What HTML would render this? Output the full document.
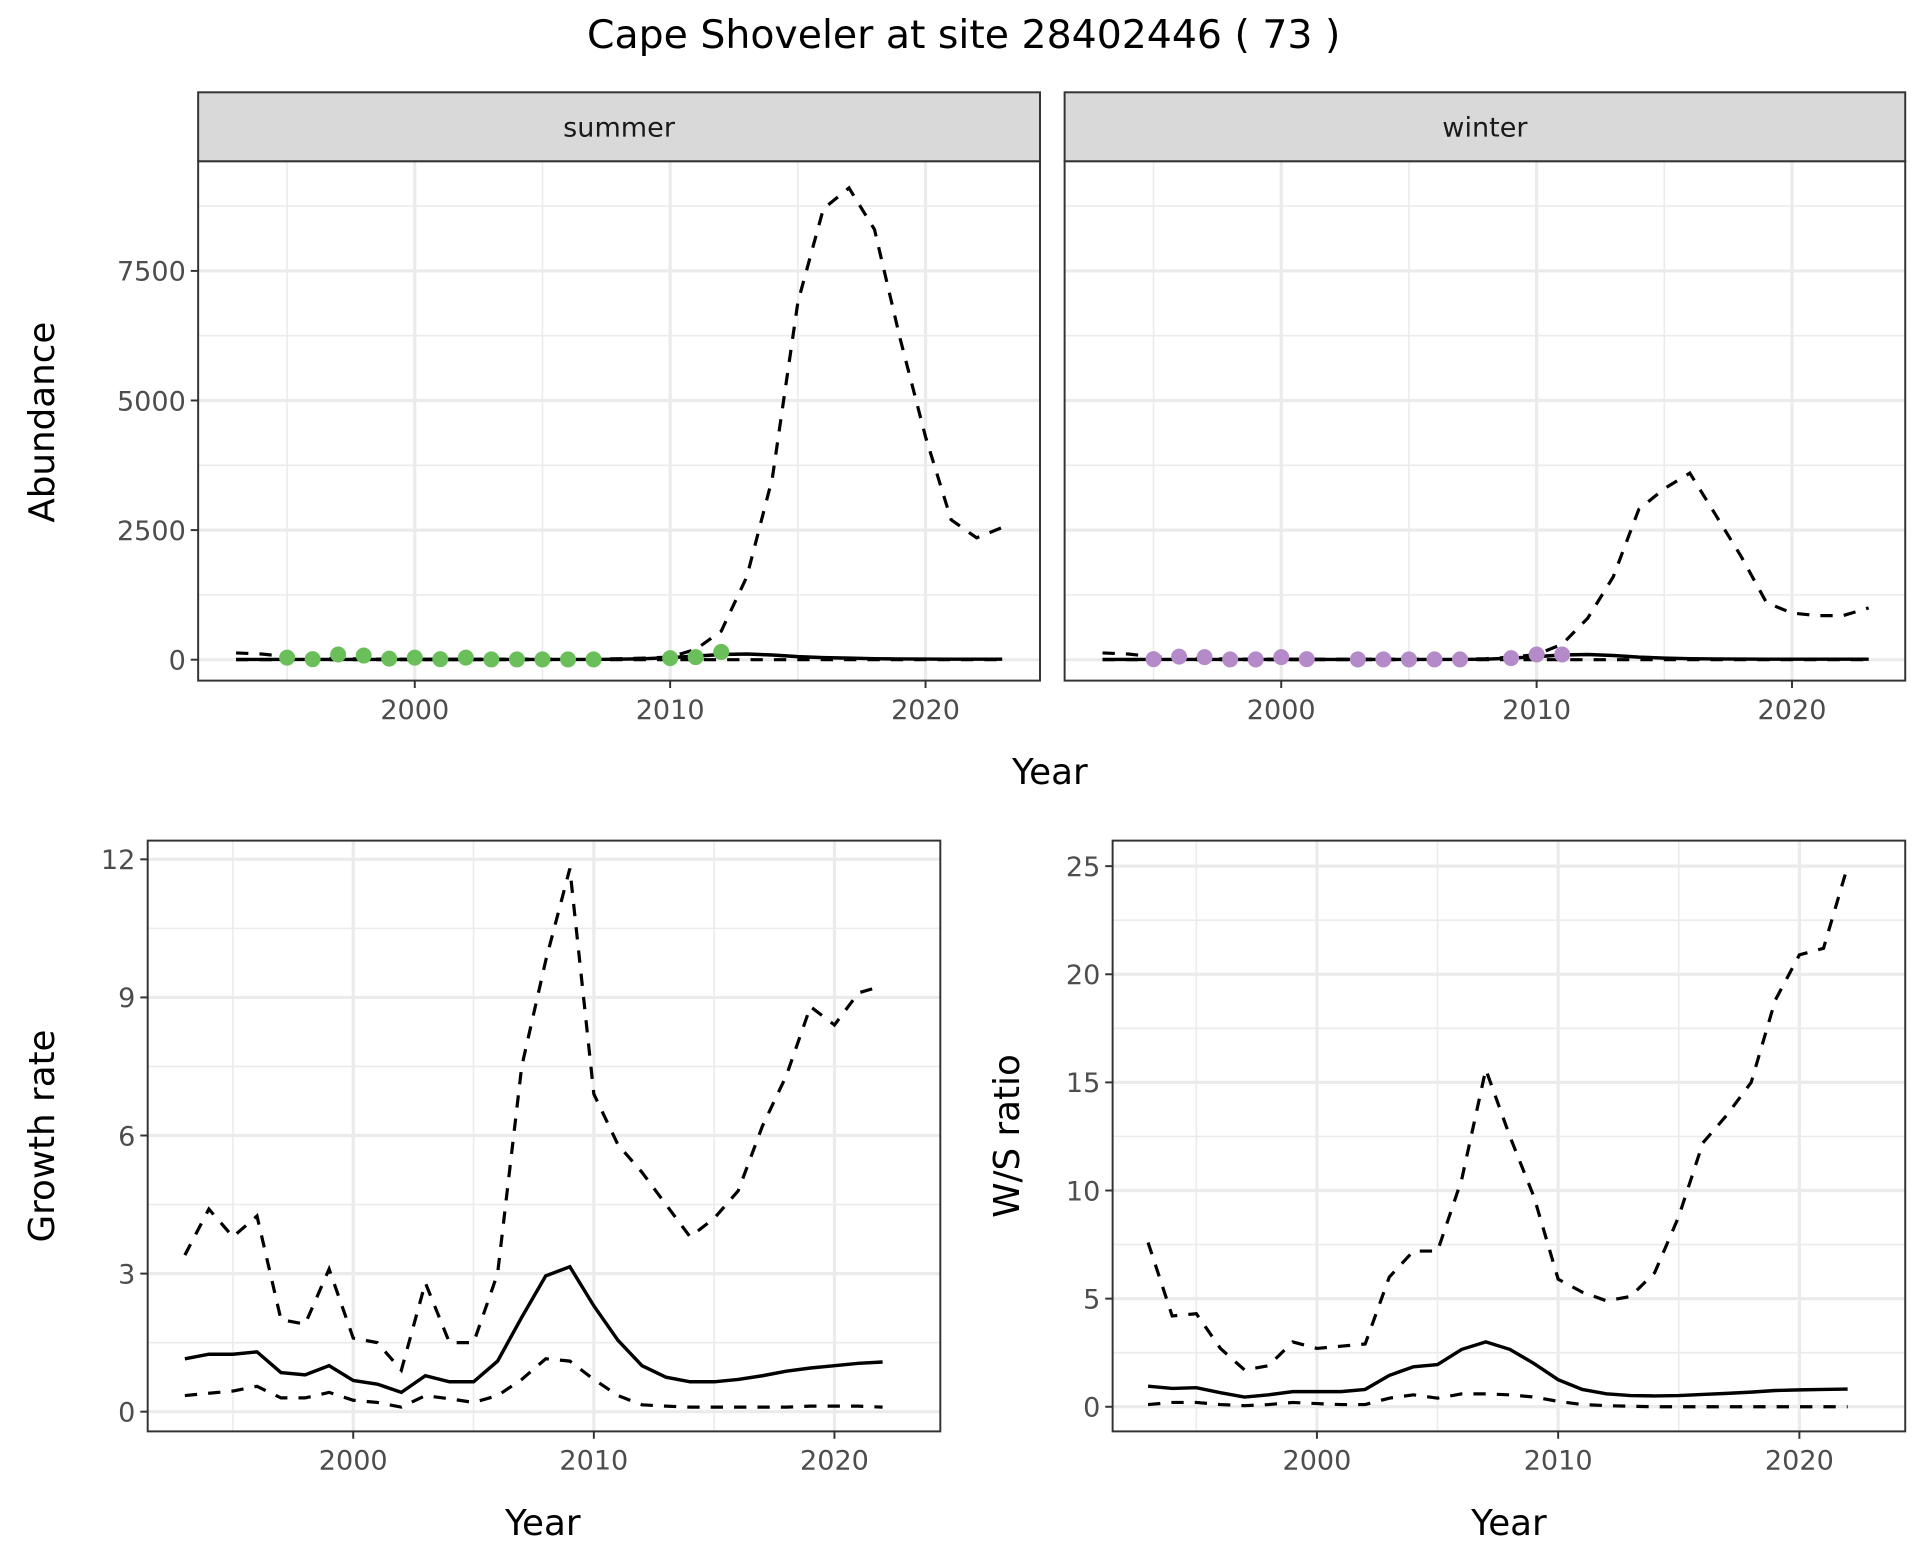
<!DOCTYPE html>
<html><head><meta charset="utf-8"><style>
html,body{margin:0;padding:0;background:#fff;}
svg{display:block;font-family:"DejaVu Sans","Liberation Sans",sans-serif;}
</style></head><body>
<svg id="chart" width="1920" height="1560" viewBox="0 0 1560 1267.5" preserveAspectRatio="none" xmlns="http://www.w3.org/2000/svg">
<rect width="1560" height="1267.5" fill="#fff"/>
<text x="783" y="39" font-size="32" text-anchor="middle" fill="#000">Cape Shoveler at site 28402446 ( 73 )</text>
</svg>
<script>
const yearsA = [1993,1994,1995,1996,1997,1998,1999,2000,2001,2002,2003,2004,2005,2006,2007,2008,2009,2010,2011,2012,2013,2014,2015,2016,2017,2018,2019,2020,2021,2022,2023];
const sumMid = [5,5,5,5,5,5,5,5,5,5,5,5,5,5,5,10,20,40,70,100,110,90,60,40,30,20,15,12,10,10,10];
const sumUp = [130,110,60,30,20,15,10,10,10,10,10,10,10,10,15,20,30,50,200,550,1600,3500,6900,8700,9100,8300,6200,4300,2700,2350,2550];
const sumLo = [0,0,0,0,0,0,0,0,0,0,0,0,0,0,0,0,0,0,0,0,0,0,0,0,0,0,0,0,0,0,0];
const winMid = [5,5,5,5,5,5,5,5,5,5,5,5,5,5,5,10,30,60,90,100,80,50,30,20,15,12,10,10,10,10,10];
const winUp = [130,110,60,30,20,15,10,10,10,10,10,10,10,10,15,20,50,100,300,800,1600,2900,3300,3600,2800,2000,1100,900,850,850,1000];
const winLo = [0,0,0,0,0,0,0,0,0,0,0,0,0,0,0,0,0,0,0,0,0,0,0,0,0,0,0,0,0,0,0];
const sumPtYears = [1995,1996,1997,1998,1999,2000,2001,2002,2003,2004,2005,2006,2007,2010,2011,2012];
const sumPtVals = [40,10,100,80,20,40,10,40,5,5,5,5,5,30,50,150];
const winPtYears = [1995,1996,1997,1998,1999,2000,2001,2003,2004,2005,2006,2007,2009,2010,2011];
const winPtVals = [10,60,50,5,5,50,10,5,5,5,5,5,30,100,100];
const yearsB = [1993,1994,1995,1996,1997,1998,1999,2000,2001,2002,2003,2004,2005,2006,2007,2008,2009,2010,2011,2012,2013,2014,2015,2016,2017,2018,2019,2020,2021,2022];
const grMid = [1.15,1.25,1.25,1.3,0.85,0.8,1.0,0.68,0.6,0.42,0.78,0.65,0.65,1.1,2.05,2.95,3.15,2.3,1.55,1.0,0.75,0.65,0.65,0.7,0.78,0.88,0.95,1.0,1.05,1.08];
const grUp = [3.4,4.4,3.8,4.25,2.0,1.9,3.1,1.6,1.5,0.9,2.8,1.5,1.5,3.0,7.5,9.8,11.8,6.9,5.8,5.2,4.5,3.8,4.2,4.8,6.2,7.3,8.8,8.4,9.1,9.25];
const grLo = [0.35,0.4,0.45,0.55,0.3,0.3,0.42,0.25,0.2,0.1,0.35,0.28,0.2,0.35,0.7,1.15,1.1,0.7,0.35,0.15,0.12,0.1,0.1,0.1,0.1,0.1,0.12,0.12,0.12,0.1];
const wsMid = [0.95,0.85,0.88,0.65,0.45,0.55,0.7,0.7,0.7,0.8,1.45,1.85,1.95,2.65,3.0,2.65,2.0,1.25,0.8,0.6,0.52,0.5,0.52,0.57,0.62,0.68,0.75,0.78,0.8,0.82];
const wsUp = [7.6,4.2,4.3,2.7,1.7,1.9,3.0,2.7,2.8,2.9,6.0,7.2,7.2,10.5,15.6,12.5,9.7,5.9,5.3,4.9,5.1,6.2,8.8,12.2,13.5,15.0,18.8,20.9,21.2,25.0];
const wsLo = [0.1,0.2,0.2,0.1,0.05,0.1,0.2,0.15,0.1,0.1,0.4,0.55,0.4,0.6,0.6,0.55,0.45,0.25,0.1,0.05,0.02,0,0,0,0,0,0,0,0,0];
const abTicks = [0,2500,5000,7500];
const abMinor = [1250,3750,6250,8750];
const grTicks = [0,3,6,9,12];
const grMinor = [1.5,4.5,7.5,10.5];
const wsTicks = [0,5,10,15,20,25];
const wsMinor = [2.5,7.5,12.5,17.5,22.5];
const xTicks = [2000,2010,2020];
const xMinor = [1995,2005,2015];

const svg = document.getElementById('chart');
const NS = 'http://www.w3.org/2000/svg';
function mk(tag, attrs, parent){const e=document.createElementNS(NS,tag);for(const k in attrs)e.setAttribute(k,attrs[k]);(parent||svg).appendChild(e);return e;}

function panel(o){
  const g = mk('g',{});
  
  
  const sx = y => o.x2000 + (y-2000)*o.pxYear;
  const sy = v => o.y0 - v*o.pxUnit;
  mk('rect',{x:o.l,y:o.t,width:o.r-o.l,height:o.b-o.t,fill:'#fff'},g);
  o.yMinor.forEach(v=>mk('line',{x1:o.l,x2:o.r,y1:sy(v),y2:sy(v),stroke:'#ebebeb','stroke-width':1.3},g));
  xMinor.forEach(v=>mk('line',{y1:o.t,y2:o.b,x1:sx(v),x2:sx(v),stroke:'#ebebeb','stroke-width':1.3},g));
  o.yTicks.forEach(v=>mk('line',{x1:o.l,x2:o.r,y1:sy(v),y2:sy(v),stroke:'#ebebeb','stroke-width':2.6},g));
  xTicks.forEach(v=>mk('line',{y1:o.t,y2:o.b,x1:sx(v),x2:sx(v),stroke:'#ebebeb','stroke-width':2.6},g));
  const path = arr => arr.map((v,i)=>(i?'L':'M')+sx(o.years[i]).toFixed(1)+','+sy(v).toFixed(1)).join('');
  const lo = mk('path',{d:path(o.lo),fill:'none',stroke:'#000','stroke-width':2.6,'stroke-dasharray':'10,9'},g);
  
  
  const up = mk('path',{d:path(o.up),fill:'none',stroke:'#000','stroke-width':2.6,'stroke-dasharray':'10,9'},g);
  
  
  const md = mk('path',{d:path(o.mid),fill:'none',stroke:'#000','stroke-width':2.8},g);
  
  
  if(o.ptYears){
    o.ptYears.forEach((y,i)=>{
      const c = mk('circle',{cx:sx(y),cy:sy(o.ptVals[i]),r:6.5,fill:o.ptColor},g);
      
      
    });
  }
  mk('rect',{x:o.l,y:o.t,width:o.r-o.l,height:o.b-o.t,fill:'none',stroke:'#333','stroke-width':1.6},g);
  if(o.showY){
    o.yTicks.forEach(v=>{
      mk('line',{x1:o.l-6,x2:o.l,y1:sy(v),y2:sy(v),stroke:'#333','stroke-width':1.6},g);
      const t = mk('text',{x:o.l-10,y:sy(v)+8,'font-size':22,'text-anchor':'end',fill:'#4d4d4d'},g);
      t.textContent = v;
      
      
    });
  }
  xTicks.forEach(v=>{
    mk('line',{y1:o.b,y2:o.b+6,x1:sx(v),x2:sx(v),stroke:'#333','stroke-width':1.6},g);
    const t = mk('text',{x:sx(v),y:o.b+31,'font-size':22,'text-anchor':'middle',fill:'#4d4d4d'},g);
    t.textContent = v;
    
    
  });
  if(o.strip){
    mk('rect',{x:o.l,y:75,width:o.r-o.l,height:56,fill:'#d9d9d9',stroke:'#333','stroke-width':1.6},g);
    const t = mk('text',{x:(o.l+o.r)/2,y:111,'font-size':22,'text-anchor':'middle',fill:'#1a1a1a'},g);
    t.textContent = o.strip;
    
    
  }
}
function label(txt,x,y,rot,name){
  const t = mk('text',{x:x,y:y,'font-size':29,'text-anchor':'middle',fill:'#000',transform:rot?`rotate(-90 ${x} ${y})`:''});
  t.textContent = txt;
  
  
}

panel({name:'summer-panel',l:161,r:845,t:131,b:553,x2000:337,pxYear:20.75,y0:536,pxUnit:105.3/2500,yTicks:abTicks,yMinor:abMinor,years:yearsA,mid:sumMid,up:sumUp,lo:sumLo,ptYears:sumPtYears,ptVals:sumPtVals,ptColor:'#6abf5a',showY:true,strip:'summer'});
panel({name:'winter-panel',l:865,r:1548,t:131,b:553,x2000:1041,pxYear:20.75,y0:536,pxUnit:105.3/2500,yTicks:abTicks,yMinor:abMinor,years:yearsA,mid:winMid,up:winUp,lo:winLo,ptYears:winPtYears,ptVals:winPtVals,ptColor:'#b58ac8',showY:false,strip:'winter'});
panel({name:'growth-rate-panel',l:120,r:764,t:683,b:1163,x2000:287,pxYear:19.55,y0:1147,pxUnit:37.4,yTicks:grTicks,yMinor:grMinor,years:yearsB,mid:grMid,up:grUp,lo:grLo,showY:true});
panel({name:'ws-ratio-panel',l:904,r:1548,t:683,b:1163,x2000:1070,pxYear:19.6,y0:1143,pxUnit:17.57,yTicks:wsTicks,yMinor:wsMinor,years:yearsB,mid:wsMid,up:wsUp,lo:wsLo,showY:true});

label('Abundance',44,343,true,'y-axis-title-abundance');
label('Year',853,637,false,'x-axis-title-top');
label('Growth rate',44,923,true,'y-axis-title-growth');
label('W/S ratio',828,923,true,'y-axis-title-ws');
label('Year',441,1247,false,'x-axis-title-growth');
label('Year',1226,1247,false,'x-axis-title-ws');
</script>
</body></html>
